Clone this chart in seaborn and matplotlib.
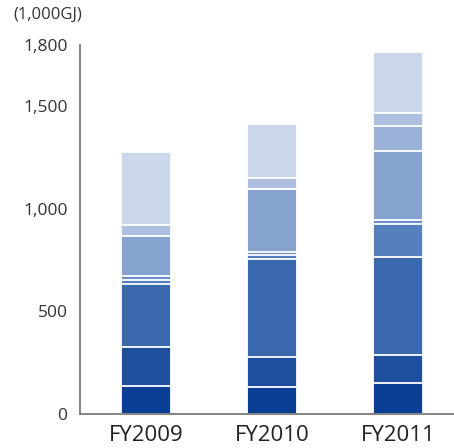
import matplotlib
matplotlib.use("Agg")
import matplotlib.pyplot as plt
import numpy as np
import pandas as pd
import seaborn as sns

# Energy consumption by source (1,000 GJ), stacked bottom to top
years = ["FY2009", "FY2010", "FY2011"]
source_1 = [134, 131, 148]
source_2 = [192, 144, 138]
source_3 = [305, 480, 477]
source_4 = [20, 20, 163]
source_5 = [21, 15, 17]
source_6 = [195, 305, 339]
source_7 = [0, 0, 119]
source_8 = [54, 54, 66]
source_9 = [353, 265, 296]

colors = ["#0b3f95", "#1d4f9d", "#3b69ae", "#5580bb", "#6a8dc4",
          "#86a3cf", "#9bb2d8", "#aebfe0", "#cbd7ea"]

y_ticks = [0, 500, 1000, 1500, 1800]
y_tick_labels = ["0", "500", "1,000", "1,500", "1,800"]
unit_label = "(1,000GJ)"

sources = [source_1, source_2, source_3, source_4, source_5,
           source_6, source_7, source_8, source_9]
cumulative = np.cumsum(np.array(sources), axis=0)

sns.set_theme(style="white")
plt.rcParams["font.family"] = ["Open Sans", "DejaVu Sans"]

fig = plt.figure(figsize=(4.54, 4.48), dpi=100)
ax = fig.add_axes([80 / 454, 34.5 / 448, 1 - 80 / 454, 368.9 / 448])

# Draw cumulative totals from the top layer down so lower layers cover upper ones
for i in range(len(sources) - 1, -1, -1):
    df = pd.DataFrame({"year": years, "value": cumulative[i]})
    sns.barplot(data=df, x="year", y="value", color=colors[i], width=0.4,
                saturation=1, edgecolor="white", linewidth=1.3, ax=ax)

ax.set_xlim(-0.527, 2.447)
ax.set_ylim(0, 1800)
ax.set_yticks(y_ticks)
ax.set_yticklabels(y_tick_labels)
ax.set_xlabel("")
ax.set_ylabel("")

for side in ["top", "right"]:
    ax.spines[side].set_visible(False)
for side in ["left", "bottom"]:
    ax.spines[side].set_color("#7a7a7a")
    ax.spines[side].set_linewidth(1.3)

ax.tick_params(axis="y", length=0, pad=9, labelsize=12.5, labelcolor="#333333")
ax.tick_params(axis="x", length=0, pad=8, labelsize=16, labelcolor="#222222")

fig.text(13 / 454, 1 - 15 / 448, unit_label, ha="left", va="center",
         fontsize=12, color="#333333")

fig.savefig("out.png", dpi=100)
